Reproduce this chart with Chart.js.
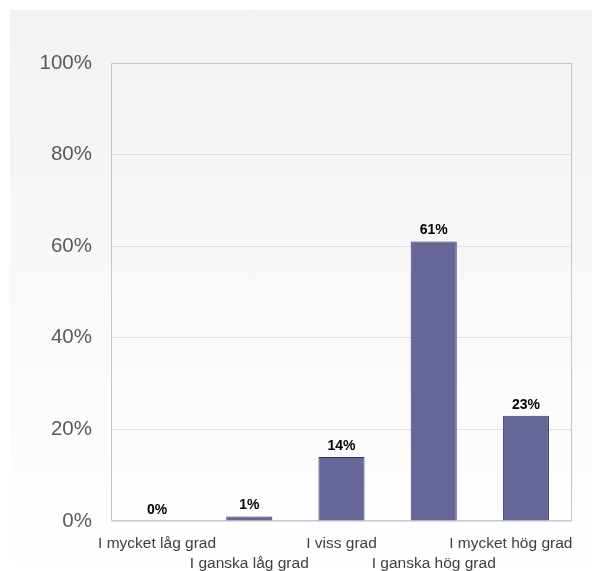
<!DOCTYPE html>
<html>
<head>
<meta charset="utf-8">
<script src="https://cdn.jsdelivr.net/npm/chart.js@4"></script>
<style>
  html, body { margin: 0; padding: 0; background: #ffffff; }
  #panel {
    position: absolute; left: 10px; top: 10px; width: 582px; height: 561px;
    background: linear-gradient(to bottom, #f2f2f2 0%, #ffffff 100%);
  }
  #wrap { position: absolute; left: 0; top: 0; width: 592px; height: 571px; }
</style>
</head>
<body>
<div id="panel"></div>
<div id="wrap"><canvas id="myChart" width="592" height="571"></canvas></div>
<script>
// chart data
var categories = ['I mycket låg grad', 'I ganska låg grad', 'I viss grad', 'I ganska hög grad', 'I mycket hög grad'];
var values = [0, 1, 14, 61, 23];
var yTicks = [0, 20, 40, 60, 80, 100];

// frame around the plot area
var frame = {
    id: 'frame',
    beforeDatasetsDraw: function(chart) {
        var a = chart.chartArea, c = chart.ctx;
        c.save();
        c.strokeStyle = '#c4c4c4';
        c.lineWidth = 1;
        c.beginPath();
        c.moveTo(a.left + 0.5, a.bottom);
        c.lineTo(a.left + 0.5, a.top + 0.5);
        c.lineTo(a.right - 0.5, a.top + 0.5);
        c.lineTo(a.right - 0.5, a.bottom);
        c.stroke();
        c.strokeStyle = '#c8c8e0';
        c.beginPath();
        c.moveTo(a.left, a.bottom - 0.5);
        c.lineTo(a.right, a.bottom - 0.5);
        c.stroke();
        c.restore();
    }
};

// value labels above bars
var valueLabels = {
    id: 'valueLabels',
    afterDatasetsDraw: function(chart) {
        var c = chart.ctx;
        var meta = chart.getDatasetMeta(0);
        c.save();
        c.font = 'bold 14px "Liberation Sans", Arial, sans-serif';
        c.fillStyle = '#000000';
        c.textAlign = 'center';
        c.textBaseline = 'middle';
        meta.data.forEach(function(bar, i) {
            c.fillText(values[i] + '%', bar.x, bar.y - 11);
        });
        c.restore();
    }
};

var ctx = document.getElementById('myChart').getContext('2d');
var myChart = new Chart(ctx, {
    type: 'bar',
    data: {
        labels: categories,
        datasets: [{
            data: values,
            backgroundColor: '#666699',
            borderColor: '#333366',
            borderWidth: 1,
            barPercentage: 0.5,
            categoryPercentage: 1
        }]
    },
    options: {
        responsive: false,
        animation: false,
        layout: { padding: { left: 0, right: 20, top: 63, bottom: 0 } },
        plugins: { legend: { display: false }, tooltip: { enabled: false } },
        scales: {
            x: {
                grid: { display: false, drawTicks: false },
                border: { display: false },
                ticks: {
                    autoSkip: false,
                    maxRotation: 0,
                    minRotation: 0,
                    padding: 12,
                    color: '#404040',
                    font: { family: '"Liberation Sans", Arial, sans-serif', size: 15.5, lineHeight: 1.32 },
                    callback: function(v, i) {
                        var t = categories[i];
                        // last label is pulled left so it stays inside the panel
                        if (i === categories.length - 1) t = t + '       ';
                        return i % 2 === 0 ? [t, ''] : ['', t];
                    }
                },
                afterFit: function(s) { s.height = 50; s.paddingLeft = 0; s.paddingRight = 0; }
            },
            y: {
                min: 0,
                max: 100,
                afterBuildTicks: function(s) {
                    s.ticks = yTicks.map(function(v) { return { value: v }; });
                },
                grid: { color: '#e0e0e0', drawTicks: false },
                border: { display: false },
                ticks: {
                    padding: 19,
                    color: '#5a5a5a',
                    font: { family: '"Liberation Sans", Arial, sans-serif', size: 20.5 },
                    callback: function(v) { return v + '%'; }
                },
                afterFit: function(s) { s.width = 111; s.paddingTop = 0; s.paddingBottom = 0; }
            }
        }
    },
    plugins: [frame, valueLabels]
});
</script>
</body>
</html>
